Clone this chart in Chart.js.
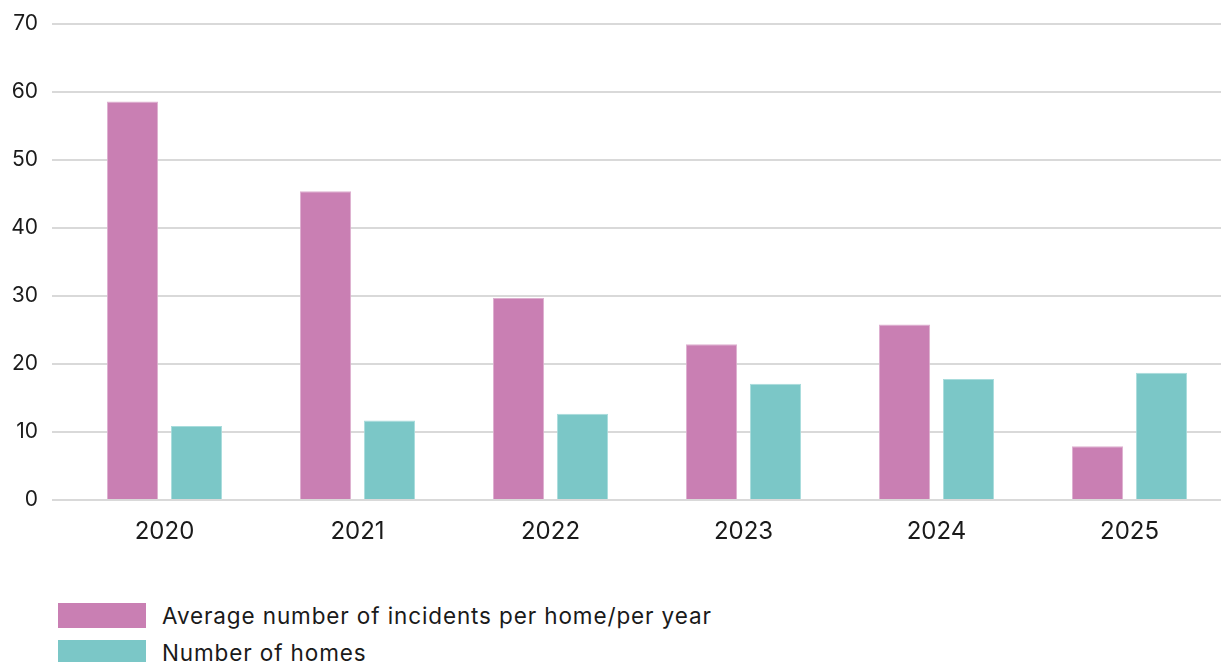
<!DOCTYPE html>
<html>
<head>
<meta charset="utf-8">
<script src="https://cdn.jsdelivr.net/npm/chart.js@4.4.1/dist/chart.umd.min.js"></script>
<style>
  html, body { margin: 0; padding: 0; background: #fff; width: 1221px; height: 662px; overflow: hidden; }
  #wrap { position: absolute; left: 0; top: 0; width: 1226px; height: 560px; }
  #legend { position: absolute; left: 58px; top: 603px; font-family: Inter, "Noto Sans", sans-serif; font-size: 22.5px; letter-spacing: 0.88px; color: #1a1a1a; }
  .item { display: flex; align-items: center; height: 25px; margin-bottom: 12px; }
  .box { width: 88px; height: 25px; margin-right: 16px; flex: none; }
</style>
</head>
<body>
<div id="wrap"><canvas id="c" width="1226" height="560"></canvas></div>
<div id="legend"></div>
<script>
const categories = ["2020", "2021", "2022", "2023", "2024", "2025"];
const seriesNames = ["Average number of incidents per home/per year", "Number of homes"];
const incidents = [58.6, 45.4, 29.7, 22.9, 25.8, 7.9];
const homes = [10.9, 11.7, 12.7, 17.1, 17.8, 18.7];
const yTicks = [0, 10, 20, 30, 40, 50, 60, 70];

const colors = ["#C97FB3", "#7BC7C7"];
const borders = ["#DDAFCF", "#A8DCDC"];
const FONT = "Inter, 'Noto Sans', sans-serif";

const ctx = document.getElementById("c").getContext("2d");
new Chart(ctx, {
  type: "bar",
  data: {
    labels: categories,
    datasets: [
      { label: seriesNames[0], data: incidents, backgroundColor: colors[0], borderColor: borders[0], borderWidth: 1 },
      { label: seriesNames[1], data: homes, backgroundColor: colors[1], borderColor: borders[1], borderWidth: 1 }
    ]
  },
  options: {
    responsive: false,
    animation: false,
    devicePixelRatio: 1,
    categoryPercentage: 0.663,
    barPercentage: 0.8,
    layout: { padding: { top: 24, right: 0, left: 0, bottom: 0 } },
    plugins: { legend: { display: false }, tooltip: { enabled: false } },
    scales: {
      x: {
        grid: { display: false, drawTicks: false },
        border: { display: false },
        ticks: { font: { family: FONT, size: 24 }, color: "#1a1a1a", padding: 17, maxRotation: 0 },
        afterFit: (s) => { s.height = 60; }
      },
      y: {
        min: 0, max: 70,
        afterBuildTicks: (s) => { s.ticks = yTicks.map(v => ({ value: v })); },
        grid: { color: "#D9D9D9", lineWidth: 2, drawTicks: true, tickLength: 16, tickColor: "#D9D9D9" },
        border: { display: false },
        ticks: { font: { family: FONT, size: 21, lineHeight: 1 }, color: "#1a1a1a", padding: 14 },
        afterFit: (s) => { s.width = 68; s.paddingTop = 0; s.paddingBottom = 0; }
      }
    }
  }
});

const legend = document.getElementById("legend");
seriesNames.forEach((n, i) => {
  const it = document.createElement("div");
  it.className = "item";
  const b = document.createElement("div");
  b.className = "box";
  b.style.background = colors[i];
  const t = document.createElement("span");
  t.textContent = n;
  it.appendChild(b); it.appendChild(t);
  legend.appendChild(it);
});
</script>
</body>
</html>
